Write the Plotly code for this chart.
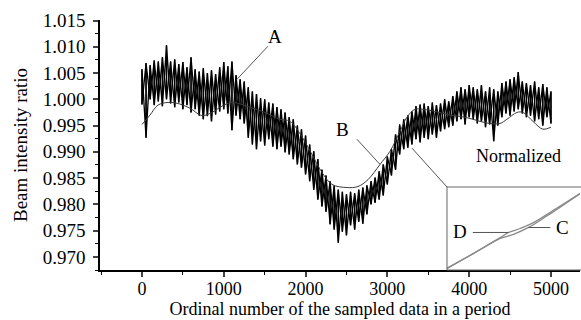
import plotly.graph_objects as go

# ---------------- data ----------------
# raw (un-normalized) beam-intensity ratio: envelope read every 50 samples
raw_x = list(range(0, 5001, 50))
raw_hi = [1.0057, 1.0069, 1.0065, 1.0074, 1.0072, 1.0080, 1.0103, 1.0072, 1.0076, 1.0067,
          1.0071, 1.0061, 1.0080, 1.0057, 1.0053, 1.0059, 1.0050, 1.0055, 1.0048, 1.0061,
          1.0071, 1.0063, 1.0072, 1.0046, 1.0038, 1.0034, 1.0023, 1.0015, 1.0010, 1.0002,
          1.0000, 0.9994, 0.9992, 0.9985, 0.9981, 0.9975, 0.9966, 0.9962, 0.9950, 0.9943,
          0.9931, 0.9914, 0.9901, 0.9886, 0.9866, 0.9855, 0.9844, 0.9836, 0.9828, 0.9824,
          0.9819, 0.9824, 0.9821, 0.9828, 0.9832, 0.9836, 0.9844, 0.9851, 0.9863, 0.9876,
          0.9891, 0.9905, 0.9933, 0.9952, 0.9962, 0.9969, 0.9977, 0.9987, 0.9990, 0.9992,
          0.9987, 0.9994, 0.9989, 0.9992, 1.0000, 0.9996, 1.0006, 1.0015, 1.0023, 1.0019,
          1.0027, 1.0023, 1.0019, 1.0027, 1.0015, 1.0023, 1.0019, 1.0015, 1.0031, 1.0034,
          1.0038, 1.0042, 1.0052, 1.0034, 1.0031, 1.0027, 1.0034, 1.0023, 1.0029, 1.0023,
          1.0015]
raw_lo = [0.9990, 0.9927, 1.0000, 0.9989, 0.9996, 0.9987, 1.0000, 0.9992, 0.9985, 0.9994,
          0.9981, 0.9989, 0.9975, 0.9981, 0.9969, 0.9962, 0.9968, 0.9958, 0.9971, 0.9977,
          0.9981, 0.9973, 0.9941, 0.9969, 0.9962, 0.9954, 0.9927, 0.9914, 0.9905, 0.9920,
          0.9912, 0.9924, 0.9910, 0.9905, 0.9910, 0.9899, 0.9895, 0.9886, 0.9876, 0.9870,
          0.9857, 0.9844, 0.9828, 0.9809, 0.9796, 0.9786, 0.9762, 0.9752, 0.9727, 0.9748,
          0.9741, 0.9760, 0.9752, 0.9767, 0.9763, 0.9781, 0.9800, 0.9803, 0.9809, 0.9817,
          0.9838, 0.9855, 0.9866, 0.9895, 0.9905, 0.9908, 0.9914, 0.9924, 0.9918, 0.9927,
          0.9924, 0.9933, 0.9927, 0.9939, 0.9943, 0.9947, 0.9950, 0.9958, 0.9962, 0.9952,
          0.9966, 0.9962, 0.9954, 0.9958, 0.9947, 0.9952, 0.9920, 0.9950, 0.9966, 0.9973,
          0.9969, 0.9977, 0.9981, 0.9973, 0.9966, 0.9969, 0.9958, 0.9962, 0.9950, 0.9966,
          0.9954]

# normalized (smooth) curve
norm_x = [0, 98, 196, 318, 440, 587, 733, 856, 978, 1100, 1320, 1504, 1687, 1809, 1956,
          2078, 2200, 2323, 2506, 2641, 2763, 2910, 3032, 3154, 3240, 3337, 3435, 3582,
          3765, 3949, 4132, 4254, 4377, 4462, 4584, 4658, 4780, 4902, 5000]
norm_y = [0.9952, 0.9970, 0.9989, 0.9994, 0.9992, 0.9983, 0.9969, 0.9975, 0.9987, 0.9994,
          0.9985, 0.9975, 0.9962, 0.9958, 0.9929, 0.9895, 0.9861, 0.9838, 0.9832, 0.9834,
          0.9847, 0.9876, 0.9901, 0.9939, 0.9966, 0.9981, 0.9981, 0.9977, 0.9970, 0.9966,
          0.9958, 0.9954, 0.9954, 0.9962, 0.9975, 0.9975, 0.9958, 0.9943, 0.9947]

# inset (magnified view) curves C and D, in inset units
inset_c_x = [0.0, 0.2, 0.4, 0.5, 0.61, 0.75, 1.0]
inset_c_y = [0.02, 0.20, 0.38, 0.43, 0.51, 0.65, 0.92]
inset_d_x = [0.0, 0.2, 0.4, 0.46, 0.55, 0.65, 0.8, 1.0]
inset_d_y = [0.02, 0.20, 0.39, 0.45, 0.50, 0.57, 0.72, 0.92]

x_ticks = [0, 1000, 2000, 3000, 4000, 5000]
y_ticks = [0.970, 0.975, 0.980, 0.985, 0.990, 0.995, 1.000, 1.005, 1.010, 1.015]

# ---------------- figure ----------------
FONT = "Liberation Serif, Times New Roman, serif"
zig1_x, zig1_y, zig2_x, zig2_y = [], [], [], []
for xv, h, l in zip(raw_x, raw_hi, raw_lo):
    zig1_x += [xv, xv]
    zig1_y += [h, l]
    zig2_x += [xv, xv]
    zig2_y += [l, h]

fig = go.Figure()
for zx, zy in ((zig1_x, zig1_y), (zig2_x, zig2_y)):
    fig.add_trace(go.Scatter(x=zx, y=zy, mode="lines",
                             line=dict(color="black", width=1.3), hoverinfo="skip"))
fig.add_trace(go.Scatter(x=norm_x, y=norm_y, mode="lines", line_shape="spline",
                         line=dict(color="#3a3a3a", width=1)))
fig.add_trace(go.Scatter(x=inset_c_x, y=inset_c_y, xaxis="x2", yaxis="y2", mode="lines",
                         line_shape="spline", line=dict(color="#8a8a8a", width=1.3)))
fig.add_trace(go.Scatter(x=inset_d_x, y=inset_d_y, xaxis="x2", yaxis="y2", mode="lines",
                         line_shape="spline", line=dict(color="#8a8a8a", width=1.3)))

lead = dict(color="#555555", width=1)
shapes = [
    dict(type="line", xref="x", yref="y", x0=1540, y0=1.0101, x1=1161, y1=1.0038, line=lead),
    dict(type="line", xref="x", yref="y", x0=2628, y0=0.9924, x1=2910, y1=0.9876, line=lead),
    dict(type="line", xref="x", yref="y", x0=3301, y0=0.9907, x1=3729, y1=0.9833, line=lead),
    dict(type="rect", xref="paper", yref="paper", x0=0.7229, x1=1.01, y0=0, y1=0.332,
         line=dict(color="#666666", width=1)),
    dict(type="line", xref="x2", yref="y2", x0=0.194, x1=0.463, y0=0.452, y1=0.452, line=lead),
    dict(type="line", xref="x2", yref="y2", x0=0.612, x1=0.776, y0=0.512, y1=0.512, line=lead),
]
annos = [
    dict(text="A", x=1626, y=1.0120, xref="x", yref="y", showarrow=False, font=dict(size=19)),
    dict(text="B", x=2457, y=0.9943, xref="x", yref="y", showarrow=False, font=dict(size=19)),
    dict(text="Normalized", x=4597, y=0.9893, xref="x", yref="y", showarrow=False, font=dict(size=18)),
    dict(text="D", x=0.097, y=0.458, xref="x2", yref="y2", showarrow=False, font=dict(size=19)),
    dict(text="C", x=0.866, y=0.506, xref="x2", yref="y2", showarrow=False, font=dict(size=19)),
]

fig.update_layout(
    width=581, height=320, margin=dict(l=100, r=1, t=20, b=50),
    paper_bgcolor="white", plot_bgcolor="white", showlegend=False,
    font=dict(family=FONT, color="black", size=18),
    shapes=shapes, annotations=annos,
    xaxis=dict(range=[-513, 5355], tickvals=x_ticks, showline=True, linecolor="black",
               linewidth=1.5, ticks="outside", ticklen=5, tickwidth=1.5, showgrid=False,
               zeroline=False, tickfont=dict(size=18), ticklabelstandoff=-3,
               minor=dict(dtick=500, tick0=0, ticks="outside", ticklen=3, tickwidth=1.2,
                          tickcolor="black", showgrid=False),
               title=dict(text="Ordinal number of the sampled data in a period",
                          font=dict(size=18), standoff=3)),
    yaxis=dict(range=[0.9675, 1.0151], tickvals=y_ticks, tickformat=".3f", showline=True,
               linecolor="black", linewidth=1.5, ticks="outside", ticklen=5, tickwidth=1.5,
               showgrid=False, zeroline=False, tickfont=dict(size=19), ticklabelstandoff=4,
               minor=dict(dtick=0.0025, tick0=0.97, ticks="outside", ticklen=3, tickwidth=1.2,
                          tickcolor="black", showgrid=False),
               title=dict(text="Beam intensity ratio", font=dict(size=19), standoff=10)),
    xaxis2=dict(domain=[0.7229, 1.0], range=[0, 1], anchor="y2", visible=False),
    yaxis2=dict(domain=[0.0, 0.332], range=[0, 1], anchor="x2", visible=False),
)

fig.write_html("out.html", config={"displayModeBar": False},
               post_script="document.body.style.margin='0';document.body.style.padding='0';")
